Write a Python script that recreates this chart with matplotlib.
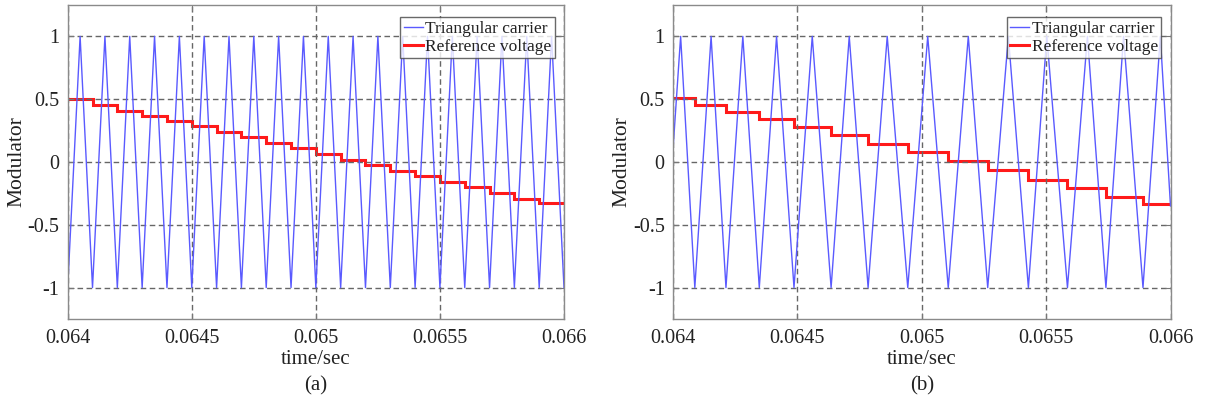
import matplotlib
matplotlib.use("Agg")
import matplotlib.pyplot as plt

plt.rcParams["font.family"] = ["Liberation Serif", "DejaVu Serif"]
plt.rcParams["axes.unicode_minus"] = False

# (a) fixed-frequency carrier: vertices of the triangle wave
carrier_a_t = [0.064, 0.06405, 0.0641, 0.06415, 0.0642, 0.06425, 0.0643, 0.06435,
               0.0644, 0.06445, 0.0645, 0.06455, 0.0646, 0.06465, 0.0647, 0.06475,
               0.0648, 0.06485, 0.0649, 0.06495, 0.065, 0.06505, 0.0651, 0.06515,
               0.0652, 0.06525, 0.0653, 0.06535, 0.0654, 0.06545, 0.0655, 0.06555,
               0.0656, 0.06565, 0.0657, 0.06575, 0.0658, 0.06585, 0.0659, 0.06595,
               0.066]
carrier_a_v = [-1, 1] * 20 + [-1]

# (a) sampled reference, updated at every carrier valley
ref_a_edges = [0.064, 0.0641, 0.0642, 0.0643, 0.0644, 0.0645, 0.0646, 0.0647,
               0.0648, 0.0649, 0.065, 0.0651, 0.0652, 0.0653, 0.0654, 0.0655,
               0.0656, 0.0657, 0.0658, 0.0659, 0.066]
ref_a = [0.500, 0.455, 0.410, 0.365, 0.325, 0.283, 0.241, 0.196, 0.151, 0.108,
         0.063, 0.019, -0.024, -0.069, -0.114, -0.159, -0.201, -0.246, -0.291, -0.330]

# (b) variable-frequency carrier
peaks_b = [0.0640307, 0.0641531, 0.0642807, 0.0644163, 0.0645598, 0.0647085,
           0.0648612, 0.0650240, 0.0651871, 0.0653482, 0.0655028, 0.0656660,
           0.0658113, 0.0659591]
valleys_b = [0.0640877, 0.0642129, 0.0643469, 0.0644864, 0.0646356, 0.0647843,
             0.0649438, 0.0651065, 0.0652652, 0.0654287, 0.0655858, 0.0657404,
             0.0658894]
carrier_b_start = 0.10
carrier_b_end = -0.35

ref_b = [0.511, 0.452, 0.399, 0.341, 0.280, 0.214, 0.146, 0.077, 0.005, -0.066,
         -0.140, -0.209, -0.275, -0.336]

xticks = [0.064, 0.0645, 0.065, 0.0655, 0.066]
xtick_labels = ["0.064", "0.0645", "0.065", "0.0655", "0.066"]
yticks = [-1, -0.5, 0, 0.5, 1]
ytick_labels = ["-1", "-0.5", "0", "0.5", "1"]

W, H = 1207, 407
fig = plt.figure(figsize=(W / 100, H / 100), dpi=100)


def px_axes(left, top, right, bottom):
    return fig.add_axes([left / W, 1 - bottom / H, (right - left) / W, (bottom - top) / H])


def style(ax):
    ax.set_xlim(0.064, 0.066)
    ax.set_ylim(-1.25, 1.25)
    ax.set_xticks(xticks)
    ax.set_xticklabels(xtick_labels)
    ax.set_yticks(yticks)
    ax.set_yticklabels(ytick_labels)
    ax.grid(True, color="#666666", linestyle=(0, (4, 2.5)), linewidth=1.0)
    ax.tick_params(direction="in", length=4, width=0.8, color="#777777",
                   top=True, right=True, labelsize=14.5, labelcolor="#222222")
    ax.tick_params(axis="y", pad=6)
    ax.tick_params(axis="x", pad=7)
    for s in ax.spines.values():
        s.set_color("#8a8a8a")
        s.set_linewidth(1.0)
    ax.set_xlabel("time/sec", fontsize=15, color="#222222", labelpad=2)
    ax.set_ylabel("Modulator", fontsize=15.5, color="#222222")
    ax.yaxis.set_label_coords(-0.084, 0.5)
    leg = ax.legend(loc="upper right", bbox_to_anchor=(1 - 9 / 497, 1 - 12 / 314),
                    borderaxespad=0, fontsize=12.5, frameon=True, fancybox=False,
                    handlelength=1.1, handletextpad=0.15, borderpad=0.2,
                    labelspacing=0.12)
    leg.get_frame().set_edgecolor("#444444")
    leg.get_frame().set_linewidth(1.0)
    for t in leg.get_texts():
        t.set_color("#222222")


ax_a = px_axes(67.7, 5, 564, 319)
ax_a.plot(carrier_a_t, carrier_a_v, color="#5a5aff", lw=1.0, label="Triangular carrier")
ax_a.stairs(ref_a, ref_a_edges, baseline=None, color="#ff1a1a", lw=2.2,
            label="Reference voltage")
style(ax_a)

# interleave the valleys and peaks of the second carrier
carrier_b_t = [0.064]
carrier_b_v = [carrier_b_start]
for i, p in enumerate(peaks_b):
    carrier_b_t.append(p)
    carrier_b_v.append(1)
    if i < len(valleys_b):
        carrier_b_t.append(valleys_b[i])
        carrier_b_v.append(-1)
carrier_b_t.append(0.066)
carrier_b_v.append(carrier_b_end)

ref_b_edges = [0.064] + valleys_b + [0.066]

ax_b = px_axes(673, 5, 1170.5, 319)
ax_b.plot(carrier_b_t, carrier_b_v, color="#5a5aff", lw=1.0, label="Triangular carrier")
ax_b.stairs(ref_b, ref_b_edges, baseline=None, color="#ff1a1a", lw=2.2,
            label="Reference voltage")
style(ax_b)

fig.text(316 / W, 1 - 386 / H, "(a)", fontsize=15, ha="center", va="center", color="#222222")
fig.text(922 / W, 1 - 386 / H, "(b)", fontsize=15, ha="center", va="center", color="#222222")

fig.savefig("out.png", dpi=100)
